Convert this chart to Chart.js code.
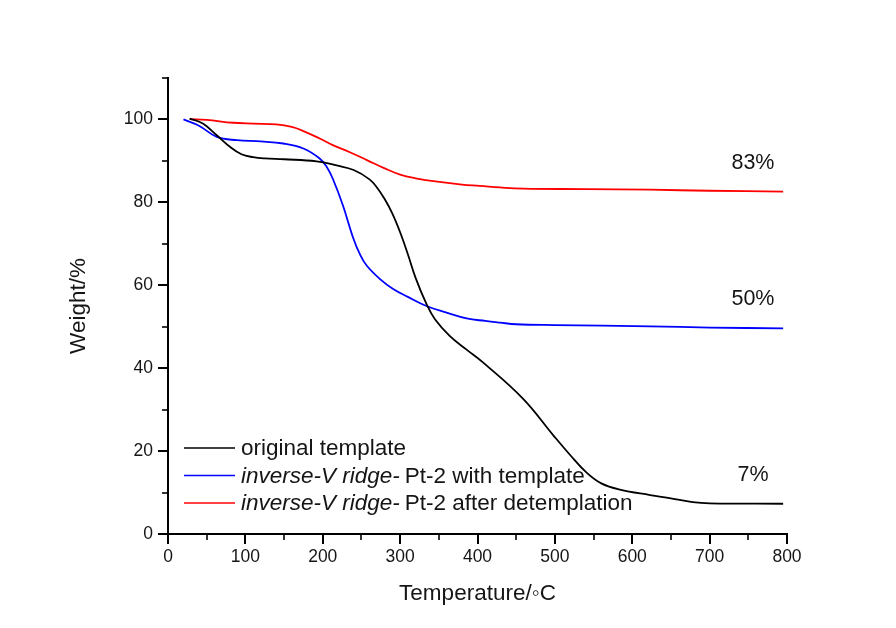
<!DOCTYPE html>
<html>
<head>
<meta charset="utf-8">
<script src="https://cdn.jsdelivr.net/npm/chart.js@4/dist/chart.umd.min.js"></script>
<style>
  html, body { margin: 0; padding: 0; background: #ffffff; }
  canvas { display: block; }
</style>
</head>
<body>
<canvas id="tga" width="896" height="628"></canvas>
<script>
// TGA curves: temperature (°C) vs residual weight (%)
const templateTemp = [28, 45, 63, 80, 95, 110, 125, 150, 192, 218, 240, 260, 270, 280, 290, 300, 310, 320, 334, 345, 364, 385, 407, 459, 498, 520, 541, 560, 584, 623, 650, 678, 700, 795];
const templateWeight = [100.2, 99.0, 96.2, 93.4, 91.6, 90.9, 90.6, 90.4, 89.9, 88.9, 87.8, 85.6, 83.6, 80.8, 77.3, 72.8, 67.5, 61.8, 55.5, 51.8, 47.8, 44.6, 41.4, 32.6, 23.8, 19.0, 14.8, 12.2, 10.7, 9.4, 8.6, 7.7, 7.4, 7.3];

const withTemplateTemp = [20, 40, 63, 89, 120, 149, 175, 196, 205, 213, 226, 239, 248, 257, 274, 291, 310, 334, 360, 386, 410, 429, 450, 500, 623, 700, 795];
const withTemplateWeight = [100.0, 98.5, 95.8, 95.0, 94.7, 94.2, 93.0, 90.6, 88.6, 85.7, 79.3, 71.6, 67.5, 64.7, 61.5, 59.1, 57.2, 55.0, 53.4, 52.0, 51.4, 51.0, 50.6, 50.4, 50.1, 49.8, 49.6];

const detemplatedTemp = [28, 50, 84, 110, 140, 160, 175, 196, 213, 235, 257, 280, 300, 320, 343, 380, 403, 429, 459, 540, 623, 700, 795];
const detemplatedWeight = [100.1, 99.9, 99.2, 99.0, 98.8, 98.2, 97.2, 95.4, 93.8, 92.1, 90.2, 88.2, 86.7, 85.8, 85.1, 84.3, 84.0, 83.6, 83.3, 83.2, 83.05, 82.8, 82.6];

const seriesNames = ['original template', 'Pt-2 with template', 'Pt-2 after detemplation'];
const seriesPrefix = ['', 'inverse-V ridge-', 'inverse-V ridge-'];
const seriesColors = ['#000000', '#0000ff', '#ff0000'];

const xTicks = [0, 100, 200, 300, 400, 500, 600, 700, 800];
const yTicks = [0, 20, 40, 60, 80, 100];
const xMinorTicks = [50, 150, 250, 350, 450, 550, 650, 750];
const yMinorTicks = [10, 30, 50, 70, 90, 110];

const FONT = "'Liberation Sans', Arial, Helvetica, sans-serif";
const TEXT = '#151515';

function toPoints(xs, ys) { return xs.map((x, i) => ({ x: x, y: ys[i] })); }

const curves = [
  toPoints(templateTemp, templateWeight),
  toPoints(withTemplateTemp, withTemplateWeight),
  toPoints(detemplatedTemp, detemplatedWeight)
];

// minor tick marks on both axes
const minorTicks = {
  id: 'minorTicks',
  afterDraw(chart) {
    const { ctx, chartArea, scales } = chart;
    ctx.save();
    ctx.strokeStyle = '#000';
    ctx.lineWidth = 1.6;
    xMinorTicks.forEach(v => {
      const px = Math.round(scales.x.getPixelForValue(v));
      ctx.beginPath();
      ctx.moveTo(px, chartArea.bottom);
      ctx.lineTo(px, chartArea.bottom + 6);
      ctx.stroke();
    });
    yMinorTicks.forEach(v => {
      const py = Math.round(scales.y.getPixelForValue(v));
      ctx.beginPath();
      ctx.moveTo(chartArea.left, py);
      ctx.lineTo(chartArea.left - 6, py);
      ctx.stroke();
    });
    ctx.restore();
  }
};

// legend inside the plot, lower left, with italic prefix
const insetLegend = {
  id: 'insetLegend',
  afterDraw(chart) {
    const { ctx, chartArea } = chart;
    const x0 = chartArea.left + 16;
    const y0 = chartArea.bottom - 86;
    const rowGap = 27.5;
    ctx.save();
    ctx.textBaseline = 'middle';
    ctx.fillStyle = TEXT;
    seriesNames.forEach((name, i) => {
      const y = y0 + i * rowGap;
      ctx.strokeStyle = seriesColors[i];
      ctx.lineWidth = 1.5;
      ctx.beginPath();
      ctx.moveTo(x0, y);
      ctx.lineTo(x0 + 51, y);
      ctx.stroke();
      let tx = x0 + 57;
      if (seriesPrefix[i]) {
        ctx.font = 'italic 22.5px ' + FONT;
        ctx.fillText(seriesPrefix[i], tx, y + 1);
        tx += ctx.measureText(seriesPrefix[i]).width + 5;
      }
      ctx.font = '22.5px ' + FONT;
      ctx.fillText(name, tx, y + 1);
    });
    ctx.restore();
  }
};

// residual weight labels above each curve end
const residueLabels = {
  id: 'residueLabels',
  afterDraw(chart) {
    const { ctx, scales } = chart;
    ctx.save();
    ctx.font = '21.5px ' + FONT;
    ctx.fillStyle = TEXT;
    ctx.textAlign = 'center';
    ctx.textBaseline = 'middle';
    curves.forEach(pts => {
      const last = pts[pts.length - 1];
      const px = scales.x.getPixelForValue(756);
      const py = scales.y.getPixelForValue(last.y) - 29;
      ctx.fillText(Math.round(last.y) + '%', px, py);
    });
    ctx.restore();
  }
};

new Chart(document.getElementById('tga'), {
  type: 'line',
  data: {
    datasets: curves.map((pts, i) => ({
      label: seriesNames[i],
      data: pts,
      borderColor: seriesColors[i],
      borderWidth: 1.8,
      pointRadius: 0,
      fill: false,
      tension: 0.4
    }))
  },
  options: {
    responsive: false,
    animation: false,
    layout: { padding: { left: 0, right: 109, top: 78, bottom: 0 } },
    plugins: { legend: { display: false }, tooltip: { enabled: false } },
    scales: {
      x: {
        type: 'linear',
        min: 0,
        max: 800,
        afterFit: s => { s.height = 94; },
        afterBuildTicks: s => { s.ticks = xTicks.map(v => ({ value: v })); },
        border: { display: true, color: '#000', width: 2 },
        grid: { display: true, drawOnChartArea: false, drawTicks: true, tickLength: 10, color: '#000', lineWidth: 2 },
        ticks: { color: TEXT, font: { family: FONT, size: 17.5 }, padding: 3, maxRotation: 0 },
        title: { display: true, text: 'Temperature/\u25E6C', color: TEXT, font: { family: FONT, size: 22.5 }, padding: { top: 0, bottom: 21 } }
      },
      y: {
        type: 'linear',
        min: 0,
        max: 110,
        afterFit: s => { s.width = 168; },
        afterBuildTicks: s => { s.ticks = yTicks.map(v => ({ value: v })); },
        border: { display: true, color: '#000', width: 2 },
        grid: { display: true, drawOnChartArea: false, drawTicks: true, tickLength: 10, color: '#000', lineWidth: 2 },
        ticks: { color: TEXT, font: { family: FONT, size: 17.5 }, padding: 5 },
        title: { display: true, text: 'Weight/%', color: TEXT, font: { family: FONT, size: 22.5 }, padding: { top: 65, bottom: 0 } }
      }
    }
  },
  plugins: [minorTicks, insetLegend, residueLabels]
});
</script>
</body>
</html>
